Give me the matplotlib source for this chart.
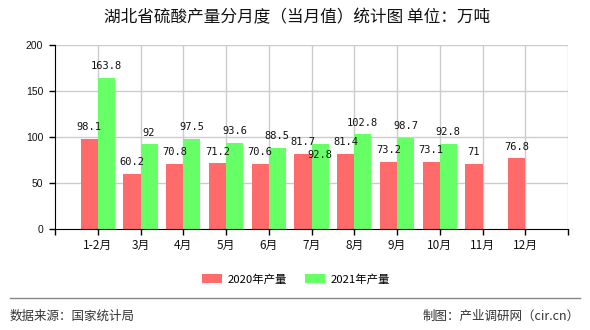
import matplotlib
matplotlib.use("Agg")
import matplotlib.pyplot as plt
import numpy as np

plt.rcParams['font.family'] = ['Noto Sans CJK SC', 'DejaVu Sans']

categories = ["1-2月", "3月", "4月", "5月", "6月", "7月", "8月", "9月", "10月", "11月", "12月"]
values_2020 = [98.1, 60.2, 70.8, 71.2, 70.6, 81.7, 81.4, 73.2, 73.1, 71, 76.8]
values_2021 = [163.8, 92, 97.5, 93.6, 88.5, 92.8, 102.8, 98.7, 92.8, None, None]
label_2020 = [str(v) for v in values_2020]
label_2021 = ["163.8", "92", "97.5", "93.6", "88.5", "92.8", "102.8", "98.7", "92.8", None, None]
series_names = ["2020年产量", "2021年产量"]
yticks = [0, 50, 100, 150, 200]

red = "#FF6A6A"
green = "#66FF66"

fig = plt.figure(figsize=(5.9, 3.3), dpi=100)
ax = fig.add_axes([55/590, 1-229/330, (568-55)/590, (229-45)/330])

x = np.arange(1, len(categories) + 1)
w = 0.4
ax.bar(x - w/2, values_2020, width=w, color=red, zorder=3, label=series_names[0])
x2 = [xi for xi, v in zip(x, values_2021) if v is not None]
v2 = [v for v in values_2021 if v is not None]
ax.bar(np.array(x2) + w/2, v2, width=w, color=green, zorder=3, label=series_names[1])

lab_font = dict(family=['DejaVu Sans Mono'], fontsize=7.5, color='#111111', ha='center', va='center')
for xi, v, t in zip(x, values_2020, label_2020):
    ax.annotate(t, (xi - w/2, v), xytext=(0, 8.5), textcoords='offset points', zorder=5, **lab_font)
for i, (xi, v, t) in enumerate(zip(x, values_2021, label_2021)):
    if v is None:
        continue
    off = 8.5
    if categories[i] == "7月":
        off = -8
    ax.annotate(t, (xi + w/2, v), xytext=(0, off), textcoords='offset points', zorder=5, **lab_font)

ax.set_xlim(0, 12)
ax.set_ylim(0, 200)
ax.set_xticks(np.arange(0, 13))
ax.set_xticklabels([""] + categories + [""], fontsize=8.5, color='#111111')
ax.set_yticks(yticks)
ax.set_yticklabels([str(t) for t in yticks], fontsize=7.5, color='#111111',
                   family=['Liberation Sans'])
ax.tick_params(axis='both', direction='out', length=4.5, width=1, color='black')
ax.tick_params(axis='x', pad=3)
ax.tick_params(axis='y', pad=4)

for t in yticks[1:]:
    ax.axhline(t, color='#cccccc', lw=1, zorder=1)
for xi in range(1, 13):
    ax.axvline(xi, color='#cccccc', lw=1, zorder=1)

for s in ['top', 'right']:
    ax.spines[s].set_visible(False)
ax.spines['left'].set_color('black')
ax.spines['bottom'].set_color('black')
ax.spines['bottom'].set_zorder(4)

fig.text(297/590, 1-18/330, "湖北省硫酸产量分月度（当月值）统计图 单位：万吨",
         ha='center', va='center', fontsize=12, color='#111111')

leg = fig.legend(loc='center', bbox_to_anchor=(296/590, 1-279/330), ncol=2, frameon=False,
                 fontsize=8.2, handlelength=1.8, handleheight=0.8, columnspacing=1.5,
                 handletextpad=0.5)

fig.add_artist(plt.Line2D([10/590, 580/590], [1-298/330, 1-298/330], color='#888888', lw=1))
fig.text(10/590, 1-316/330, "数据来源：国家统计局", ha='left', va='center', fontsize=9, color='#333333')
fig.text(580/590, 1-316/330, "制图：产业调研网（cir.cn）", ha='right', va='center', fontsize=9, color='#333333')

fig.savefig("out.png", dpi=100)
